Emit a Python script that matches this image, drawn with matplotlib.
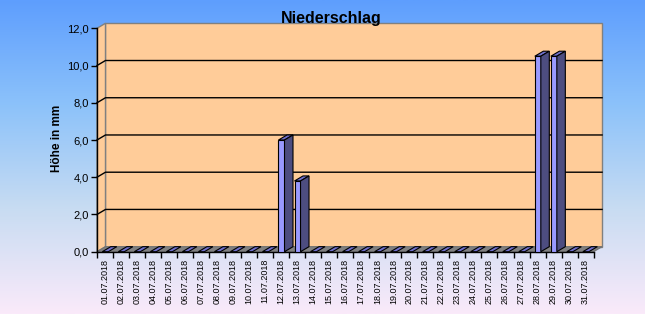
import numpy as np
import matplotlib.pyplot as plt
from matplotlib.patches import Polygon, Rectangle
from matplotlib.colors import LinearSegmentedColormap

plt.rcParams['font.family'] = ['Liberation Sans', 'DejaVu Sans']

# Daten: Niederschlag Juli 2018
tage = ['01.07.2018', '02.07.2018', '03.07.2018', '04.07.2018', '05.07.2018',
        '06.07.2018', '07.07.2018', '08.07.2018', '09.07.2018', '10.07.2018',
        '11.07.2018', '12.07.2018', '13.07.2018', '14.07.2018', '15.07.2018',
        '16.07.2018', '17.07.2018', '18.07.2018', '19.07.2018', '20.07.2018',
        '21.07.2018', '22.07.2018', '23.07.2018', '24.07.2018', '25.07.2018',
        '26.07.2018', '27.07.2018', '28.07.2018', '29.07.2018', '30.07.2018',
        '31.07.2018']
niederschlag = [0, 0, 0, 0, 0, 0, 0, 0, 0, 0,
                0, 6.0, 3.8, 0, 0, 0, 0, 0, 0, 0,
                0, 0, 0, 0, 0, 0, 0, 10.5, 10.5, 0,
                0]
y_ticks = [0, 2, 4, 6, 8, 10, 12]
y_labels = ['0,0', '2,0', '4,0', '6,0', '8,0', '10,0', '12,0']

fig = plt.figure(figsize=(6.45, 3.14), dpi=100)

# Hintergrund-Verlauf
bg = fig.add_axes([0, 0, 1, 1])
bg.axis('off')
cmap = LinearSegmentedColormap.from_list('bg', ['#5E9EFE', '#8CC2FA', '#C8DCF2', '#FAEAFA'])
grad = np.linspace(0, 1, 256).reshape(-1, 1)
bg.imshow(grad, aspect='auto', cmap=cmap, extent=[0, 1, 0, 1])

ax = fig.add_axes([97 / 645, 62.3 / 314, 496.6 / 645, 223.4 / 314])
n = len(tage)
ymax = y_ticks[-1]
ax.set_xlim(0, n)
ax.set_ylim(0, ymax)
ax.patch.set_visible(False)

# Tiefe der 3D-Darstellung
dx, dy = 0.53, 0.27
wall = '#FFCC99'

ax.add_patch(Polygon([(dx, dy), (n + dx, dy), (n + dx, ymax + dy), (dx, ymax + dy)],
                     fc=wall, ec='#808080', lw=1, clip_on=False, zorder=0))
ax.add_patch(Polygon([(0, 0), (dx, dy), (dx, ymax + dy), (0, ymax)],
                     fc=wall, ec='#808080', lw=1, clip_on=False, zorder=0))
ax.add_patch(Polygon([(0, 0), (n, 0), (n + dx, dy), (dx, dy)],
                     fc='#808080', ec='#707070', lw=0.8, clip_on=False, zorder=1))

for y in y_ticks[1:-1]:
    ax.plot([0, dx, n + dx], [y, y + dy, y + dy], color='black', lw=1,
            clip_on=False, zorder=1)

# Säulen
bw = 0.375
for i, v in enumerate(niederschlag):
    x0 = i + 0.33
    x1 = x0 + bw
    ax.add_patch(Polygon([(x0, v), (x1, v), (x1 + dx, v + dy), (x0 + dx, v + dy)],
                         fc='#7070CC', ec='black', lw=0.8, clip_on=False, zorder=3))
    if v > 0:
        ax.add_patch(Rectangle((x0, 0), bw, v, fc='#9999FF', ec='black', lw=0.8,
                               clip_on=False, zorder=3))
        ax.add_patch(Polygon([(x1, 0), (x1 + dx, dy), (x1 + dx, v + dy), (x1, v)],
                             fc='#4D4D80', ec='black', lw=0.8, clip_on=False, zorder=3))

for s in ['top', 'right']:
    ax.spines[s].set_visible(False)
for s in ['left', 'bottom']:
    ax.spines[s].set_color('black')
    ax.spines[s].set_linewidth(1)
    ax.spines[s].set_zorder(2)

ax.set_xticks(np.arange(n + 1))
ax.set_xticklabels([])
ax.set_xticks(np.arange(n) + 0.5, minor=True)
ax.set_xticklabels(tage, minor=True, rotation=90, fontsize=6.5, va='top')
ax.tick_params(axis='x', which='major', length=4, width=1, color='black', direction='out')
ax.tick_params(axis='x', which='minor', length=0, pad=5)

ax.set_yticks(y_ticks)
ax.set_yticklabels(y_labels, fontsize=8)
ax.tick_params(axis='y', length=4, width=1, color='black', direction='out', pad=2)

fig.text(331 / 645, 1 - 18.5 / 314, 'Niederschlag', ha='center', va='center',
         fontsize=11.5, fontweight='bold')
fig.text(57 / 645, 1 - 138 / 314, 'Höhe in mm', ha='center', va='center',
         rotation=90, fontsize=8.5, fontweight='bold')

fig.savefig('out.png', dpi=100)
